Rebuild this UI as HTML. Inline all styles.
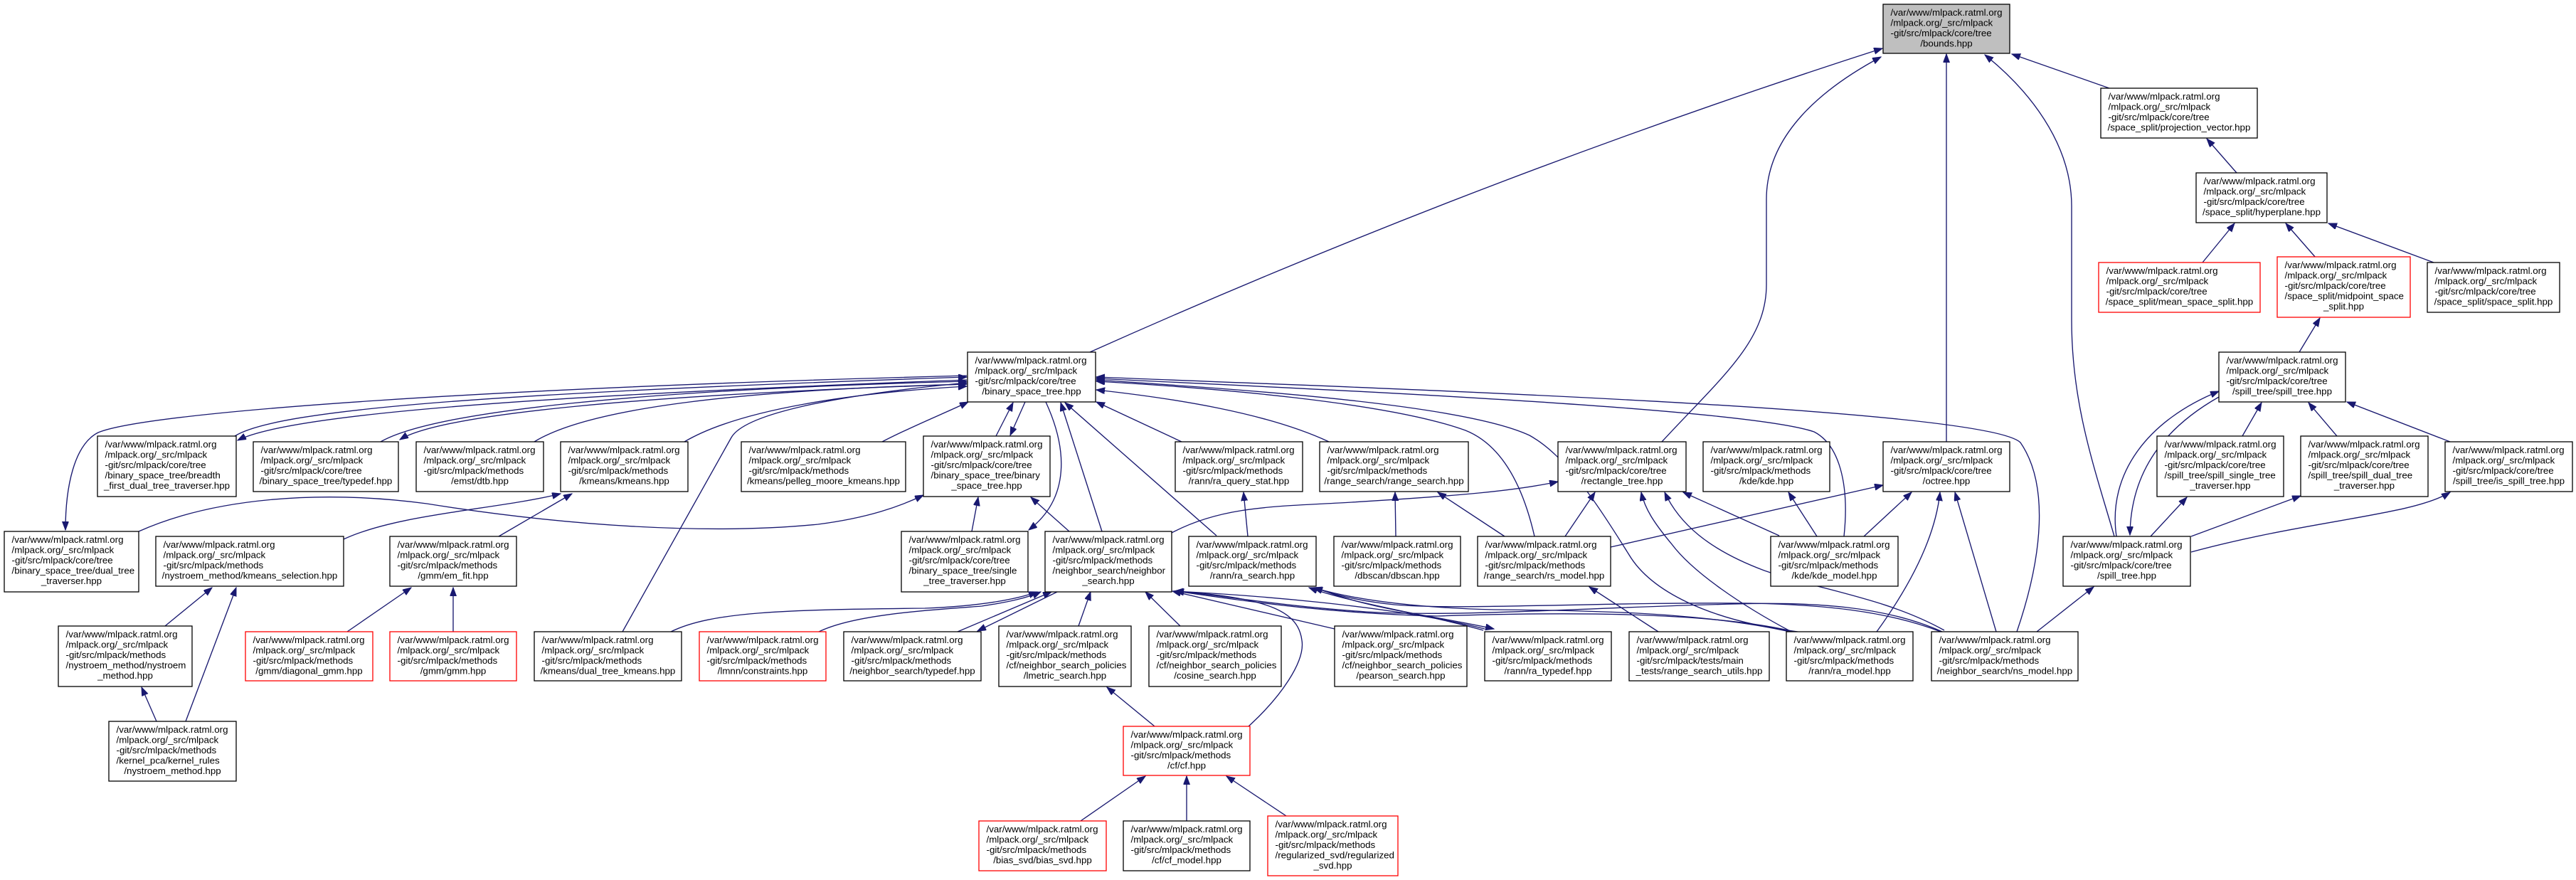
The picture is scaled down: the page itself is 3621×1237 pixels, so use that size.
<!DOCTYPE html>
<html>
<head>
<meta charset="utf-8">
<style>
  html, body { margin: 0; padding: 0; background: #ffffff; }
  svg { display: block; }
  .n rect { fill: #ffffff; stroke: #000000; stroke-width: 1.3; }
  .n.red rect { stroke: #ff0000; }
  .n.gray rect { fill: #bfbfbf; }
  .n text { font-family: "Liberation Sans", Arial, sans-serif; font-size: 13.33px; fill: #000000; }
  .e path { fill: none; stroke: #191970; stroke-width: 1.35; marker-end: url(#ah); }
</style>
</head>
<body>
<svg xmlns="http://www.w3.org/2000/svg" width="3621" height="1237" viewBox="0 0 3621 1237">
<defs>
  <marker id="ah" markerWidth="13" markerHeight="10" refX="12" refY="4.5" orient="auto" markerUnits="userSpaceOnUse">
    <path d="M0,0 L12,4.5 L0,9 z" fill="#191970" stroke="#191970" stroke-width="1"/>
  </marker>
</defs>
<rect x="0" y="0" width="3621" height="1237" fill="#ffffff"/>

<g class="e">
  <!-- top -->
  <path d="M1532,495 Q2080,250 2646,68"/>
  <path d="M2336,621 C2420,530 2483,480 2483,400 L2483,280 C2483,190 2560,125 2644,80"/>
  <path d="M2736,621 L2736,76"/>
  <path d="M2972,754 C2945,660 2912,570 2912,450 L2912,290 C2912,200 2850,125 2790,77"/>
  <path d="M2965,124 L2828,76"/>
  <path d="M3144,243 L3102,195"/>
  <path d="M3096,369 L3141,314"/>
  <path d="M3255,362 L3213,314"/>
  <path d="M3421,369 L3273,314"/>
  <path d="M3232,495 L3261,447"/>
  <!-- spill -->
  <path d="M2975,754 C2962,665 3020,590 3119,550"/>
  <path d="M3119,558 C3045,600 2995,660 2994,752"/>
  <path d="M3152,613 L3179,566"/>
  <path d="M3285,613 L3245,566"/>
  <path d="M3444,621 L3299,565"/>
  <path d="M3023,754 L3074,699"/>
  <path d="M3080,754 L3234,697"/>
  <path d="M3080,776 C3250,730 3390,725 3444,692"/>
  <path d="M2863,888 L2943,825"/>
  <!-- binary_space_tree -->
  <path d="M330,613 C390,575 700,552 1359,530"/>
  <path d="M1359,534 C700,558 400,585 334,619"/>
  <path d="M535,621 C610,578 900,548 1359,536"/>
  <path d="M1359,540 C900,555 620,582 562,618"/>
  <path d="M751,621 C830,572 1050,548 1359,540"/>
  <path d="M962,621 C1040,575 1200,552 1359,543"/>
  <path d="M1240,621 C1280,600 1330,580 1361,565"/>
  <path d="M1359,528 C700,545 210,578 138,608 C104,625 92,685 92,745"/>
  <path d="M1400,613 L1424,566"/>
  <path d="M1441,565 L1420,612"/>
  <path d="M1470,565 C1500,630 1505,700 1446,745"/>
  <path d="M1549,747 L1491,566"/>
  <path d="M1710,753 L1497,566"/>
  <path d="M1661,621 L1541,565"/>
  <path d="M1868,621 C1780,580 1650,560 1541,548"/>
  <path d="M2157,754 C2140,680 2110,625 2060,605 C1950,565 1700,545 1541,536"/>
  <path d="M2527,888 C2400,872 2320,830 2290,780 C2240,700 2200,640 2150,612 C2050,565 1700,545 1541,534"/>
  <path d="M2592,754 C2600,680 2585,625 2550,607 C2450,572 1800,545 1541,532"/>
  <path d="M2835,888 C2872,780 2880,680 2840,622 C2790,575 2000,548 1541,530"/>
  <path d="M875,888 L1028,615 C1045,585 1150,558 1359,538"/>
  <path d="M195,747 C300,700 450,688 600,708 C800,740 1000,752 1150,737 C1220,728 1265,712 1298,696"/>
  <path d="M1366,747 L1375,699"/>
  <path d="M1503,747 L1449,699"/>
  <!-- kmeans / gmm / nystroem -->
  <path d="M483,758 C560,722 700,716 788,694"/>
  <path d="M701,754 L804,694"/>
  <path d="M232,880 L298,826"/>
  <path d="M261,1014 L332,826"/>
  <path d="M220,1014 L199,966"/>
  <path d="M488,888 L578,826"/>
  <path d="M637,888 L637,826"/>
  <!-- neighbor_search -->
  <path d="M943,888 C1000,860 1100,857 1300,855 C1380,852 1430,842 1458,832"/>
  <path d="M1151,888 C1200,864 1300,858 1380,852 C1420,846 1445,840 1463,832"/>
  <path d="M1346,888 L1478,832"/>
  <path d="M1486,832 L1374,887"/>
  <path d="M1516,880 L1533,832"/>
  <path d="M1659,880 L1610,832"/>
  <path d="M1876,884 L1648,831"/>
  <path d="M1755,1021 C1800,980 1835,930 1830,900 C1825,862 1790,840 1651,831"/>
  <path d="M2087,884 C1950,850 1750,836 1651,831"/>
  <path d="M2518,887 C2400,860 2200,860 2020,866 C1850,862 1720,840 1652,831"/>
  <path d="M2730,888 C2650,852 2550,846 2440,849 C2250,853 2050,868 1920,860 C1800,852 1710,836 1652,831"/>
  <!-- rann -->
  <path d="M1754,754 L1748,692"/>
  <path d="M2085,886 C2000,862 1900,848 1840,826"/>
  <path d="M1850,826 C1920,856 2020,866 2100,884"/>
  <path d="M2516,888 C2400,862 2250,858 2100,857 C1980,854 1900,842 1846,826"/>
  <path d="M2728,888 C2650,858 2560,850 2460,848 C2250,846 2050,858 1960,850 C1910,845 1875,836 1847,826"/>
  <!-- range search -->
  <path d="M1962,754 L1961,692"/>
  <path d="M2115,754 L2021,692"/>
  <path d="M2331,888 L2234,825"/>
  <!-- rectangle tree -->
  <path d="M1647,749 C1720,710 1800,712 1900,706 C2050,697 2130,690 2190,677"/>
  <path d="M2200,754 L2242,692"/>
  <path d="M2518,888 C2450,852 2380,805 2350,765 C2325,735 2312,715 2307,692"/>
  <path d="M2733,886 C2650,840 2560,830 2480,802 C2400,772 2360,735 2340,692"/>
  <path d="M2501,753 L2366,692"/>
  <!-- kde / octree -->
  <path d="M2554,754 L2514,692"/>
  <path d="M2264,769 L2647,682"/>
  <path d="M2620,754 L2687,692"/>
  <path d="M2638,888 C2680,830 2720,760 2727,692"/>
  <path d="M2806,888 L2748,692"/>
  <!-- cf -->
  <path d="M1623,1021 L1556,966"/>
  <path d="M1519,1154 L1610,1091"/>
  <path d="M1668,1154 L1668,1091"/>
  <path d="M1808,1147 L1724,1091"/>
</g>

<!-- Nodes -->
<g class="n gray" transform="translate(2647,6)"><rect width="178" height="69"/>
<text x="10.5" y="15.8">/var/www/mlpack.ratml.org</text><text x="10.5" y="30.3">/mlpack.org/_src/mlpack</text><text x="10.5" y="44.8">-git/src/mlpack/core/tree</text><text x="89" y="59.3" text-anchor="middle">/bounds.hpp</text></g>

<g class="n" transform="translate(2953,124)"><rect width="220" height="70"/>
<text x="10.5" y="15.8">/var/www/mlpack.ratml.org</text><text x="10.5" y="30.3">/mlpack.org/_src/mlpack</text><text x="10.5" y="44.8">-git/src/mlpack/core/tree</text><text x="110" y="59.3" text-anchor="middle">/space_split/projection_vector.hpp</text></g>

<g class="n" transform="translate(3087,243)"><rect width="184" height="70"/>
<text x="10.5" y="15.8">/var/www/mlpack.ratml.org</text><text x="10.5" y="30.3">/mlpack.org/_src/mlpack</text><text x="10.5" y="44.8">-git/src/mlpack/core/tree</text><text x="92" y="59.3" text-anchor="middle">/space_split/hyperplane.hpp</text></g>

<g class="n red" transform="translate(2950,369)"><rect width="227" height="70"/>
<text x="10.5" y="15.8">/var/www/mlpack.ratml.org</text><text x="10.5" y="30.3">/mlpack.org/_src/mlpack</text><text x="10.5" y="44.8">-git/src/mlpack/core/tree</text><text x="113.5" y="59.3" text-anchor="middle">/space_split/mean_space_split.hpp</text></g>

<g class="n red" transform="translate(3201,361)"><rect width="187" height="85"/>
<text x="10.5" y="15.8">/var/www/mlpack.ratml.org</text><text x="10.5" y="30.3">/mlpack.org/_src/mlpack</text><text x="10.5" y="44.8">-git/src/mlpack/core/tree</text><text x="10.5" y="59.3">/space_split/midpoint_space</text><text x="93.5" y="73.8" text-anchor="middle">_split.hpp</text></g>

<g class="n" transform="translate(3412,369)"><rect width="186" height="70"/>
<text x="10.5" y="15.8">/var/www/mlpack.ratml.org</text><text x="10.5" y="30.3">/mlpack.org/_src/mlpack</text><text x="10.5" y="44.8">-git/src/mlpack/core/tree</text><text x="93" y="59.3" text-anchor="middle">/space_split/space_split.hpp</text></g>

<g class="n" transform="translate(1360,495)"><rect width="180" height="70"/>
<text x="10.5" y="15.8">/var/www/mlpack.ratml.org</text><text x="10.5" y="30.3">/mlpack.org/_src/mlpack</text><text x="10.5" y="44.8">-git/src/mlpack/core/tree</text><text x="90" y="59.3" text-anchor="middle">/binary_space_tree.hpp</text></g>

<g class="n" transform="translate(3119,495)"><rect width="178" height="70"/>
<text x="10.5" y="15.8">/var/www/mlpack.ratml.org</text><text x="10.5" y="30.3">/mlpack.org/_src/mlpack</text><text x="10.5" y="44.8">-git/src/mlpack/core/tree</text><text x="89" y="59.3" text-anchor="middle">/spill_tree/spill_tree.hpp</text></g>

<g class="n" transform="translate(137,613)"><rect width="195" height="85"/>
<text x="10.5" y="15.8">/var/www/mlpack.ratml.org</text><text x="10.5" y="30.3">/mlpack.org/_src/mlpack</text><text x="10.5" y="44.8">-git/src/mlpack/core/tree</text><text x="10.5" y="59.3">/binary_space_tree/breadth</text><text x="97.5" y="73.8" text-anchor="middle">_first_dual_tree_traverser.hpp</text></g>

<g class="n" transform="translate(356,621)"><rect width="204" height="70"/>
<text x="10.5" y="15.8">/var/www/mlpack.ratml.org</text><text x="10.5" y="30.3">/mlpack.org/_src/mlpack</text><text x="10.5" y="44.8">-git/src/mlpack/core/tree</text><text x="102" y="59.3" text-anchor="middle">/binary_space_tree/typedef.hpp</text></g>

<g class="n" transform="translate(585,621)"><rect width="179" height="70"/>
<text x="10.5" y="15.8">/var/www/mlpack.ratml.org</text><text x="10.5" y="30.3">/mlpack.org/_src/mlpack</text><text x="10.5" y="44.8">-git/src/mlpack/methods</text><text x="89.5" y="59.3" text-anchor="middle">/emst/dtb.hpp</text></g>

<g class="n" transform="translate(788,621)"><rect width="179" height="70"/>
<text x="10.5" y="15.8">/var/www/mlpack.ratml.org</text><text x="10.5" y="30.3">/mlpack.org/_src/mlpack</text><text x="10.5" y="44.8">-git/src/mlpack/methods</text><text x="89.5" y="59.3" text-anchor="middle">/kmeans/kmeans.hpp</text></g>

<g class="n" transform="translate(1042,621)"><rect width="231" height="70"/>
<text x="10.5" y="15.8">/var/www/mlpack.ratml.org</text><text x="10.5" y="30.3">/mlpack.org/_src/mlpack</text><text x="10.5" y="44.8">-git/src/mlpack/methods</text><text x="115.5" y="59.3" text-anchor="middle">/kmeans/pelleg_moore_kmeans.hpp</text></g>

<g class="n" transform="translate(1298,613)"><rect width="178" height="85"/>
<text x="10.5" y="15.8">/var/www/mlpack.ratml.org</text><text x="10.5" y="30.3">/mlpack.org/_src/mlpack</text><text x="10.5" y="44.8">-git/src/mlpack/core/tree</text><text x="10.5" y="59.3">/binary_space_tree/binary</text><text x="89" y="73.8" text-anchor="middle">_space_tree.hpp</text></g>

<g class="n" transform="translate(1652,621)"><rect width="179" height="70"/>
<text x="10.5" y="15.8">/var/www/mlpack.ratml.org</text><text x="10.5" y="30.3">/mlpack.org/_src/mlpack</text><text x="10.5" y="44.8">-git/src/mlpack/methods</text><text x="89.5" y="59.3" text-anchor="middle">/rann/ra_query_stat.hpp</text></g>

<g class="n" transform="translate(1855,621)"><rect width="209" height="70"/>
<text x="10.5" y="15.8">/var/www/mlpack.ratml.org</text><text x="10.5" y="30.3">/mlpack.org/_src/mlpack</text><text x="10.5" y="44.8">-git/src/mlpack/methods</text><text x="104.5" y="59.3" text-anchor="middle">/range_search/range_search.hpp</text></g>

<g class="n" transform="translate(2190,621)"><rect width="180" height="70"/>
<text x="10.5" y="15.8">/var/www/mlpack.ratml.org</text><text x="10.5" y="30.3">/mlpack.org/_src/mlpack</text><text x="10.5" y="44.8">-git/src/mlpack/core/tree</text><text x="90" y="59.3" text-anchor="middle">/rectangle_tree.hpp</text></g>

<g class="n" transform="translate(2394,621)"><rect width="178" height="70"/>
<text x="10.5" y="15.8">/var/www/mlpack.ratml.org</text><text x="10.5" y="30.3">/mlpack.org/_src/mlpack</text><text x="10.5" y="44.8">-git/src/mlpack/methods</text><text x="89" y="59.3" text-anchor="middle">/kde/kde.hpp</text></g>

<g class="n" transform="translate(2647,621)"><rect width="178" height="70"/>
<text x="10.5" y="15.8">/var/www/mlpack.ratml.org</text><text x="10.5" y="30.3">/mlpack.org/_src/mlpack</text><text x="10.5" y="44.8">-git/src/mlpack/core/tree</text><text x="89" y="59.3" text-anchor="middle">/octree.hpp</text></g>

<g class="n" transform="translate(3032,613)"><rect width="178" height="85"/>
<text x="10.5" y="15.8">/var/www/mlpack.ratml.org</text><text x="10.5" y="30.3">/mlpack.org/_src/mlpack</text><text x="10.5" y="44.8">-git/src/mlpack/core/tree</text><text x="10.5" y="59.3">/spill_tree/spill_single_tree</text><text x="89" y="73.8" text-anchor="middle">_traverser.hpp</text></g>

<g class="n" transform="translate(3234,613)"><rect width="179" height="85"/>
<text x="10.5" y="15.8">/var/www/mlpack.ratml.org</text><text x="10.5" y="30.3">/mlpack.org/_src/mlpack</text><text x="10.5" y="44.8">-git/src/mlpack/core/tree</text><text x="10.5" y="59.3">/spill_tree/spill_dual_tree</text><text x="89.5" y="73.8" text-anchor="middle">_traverser.hpp</text></g>

<g class="n" transform="translate(3437,621)"><rect width="179" height="70"/>
<text x="10.5" y="15.8">/var/www/mlpack.ratml.org</text><text x="10.5" y="30.3">/mlpack.org/_src/mlpack</text><text x="10.5" y="44.8">-git/src/mlpack/core/tree</text><text x="89.5" y="59.3" text-anchor="middle">/spill_tree/is_spill_tree.hpp</text></g>

<g class="n" transform="translate(6,747)"><rect width="189" height="85"/>
<text x="10.5" y="15.8">/var/www/mlpack.ratml.org</text><text x="10.5" y="30.3">/mlpack.org/_src/mlpack</text><text x="10.5" y="44.8">-git/src/mlpack/core/tree</text><text x="10.5" y="59.3">/binary_space_tree/dual_tree</text><text x="94.5" y="73.8" text-anchor="middle">_traverser.hpp</text></g>

<g class="n" transform="translate(219,754)"><rect width="264" height="70"/>
<text x="10.5" y="15.8">/var/www/mlpack.ratml.org</text><text x="10.5" y="30.3">/mlpack.org/_src/mlpack</text><text x="10.5" y="44.8">-git/src/mlpack/methods</text><text x="132" y="59.3" text-anchor="middle">/nystroem_method/kmeans_selection.hpp</text></g>

<g class="n" transform="translate(548,754)"><rect width="178" height="70"/>
<text x="10.5" y="15.8">/var/www/mlpack.ratml.org</text><text x="10.5" y="30.3">/mlpack.org/_src/mlpack</text><text x="10.5" y="44.8">-git/src/mlpack/methods</text><text x="89" y="59.3" text-anchor="middle">/gmm/em_fit.hpp</text></g>

<g class="n" transform="translate(1267,747)"><rect width="178" height="85"/>
<text x="10.5" y="15.8">/var/www/mlpack.ratml.org</text><text x="10.5" y="30.3">/mlpack.org/_src/mlpack</text><text x="10.5" y="44.8">-git/src/mlpack/core/tree</text><text x="10.5" y="59.3">/binary_space_tree/single</text><text x="89" y="73.8" text-anchor="middle">_tree_traverser.hpp</text></g>

<g class="n" transform="translate(1469,747)"><rect width="178" height="85"/>
<text x="10.5" y="15.8">/var/www/mlpack.ratml.org</text><text x="10.5" y="30.3">/mlpack.org/_src/mlpack</text><text x="10.5" y="44.8">-git/src/mlpack/methods</text><text x="10.5" y="59.3">/neighbor_search/neighbor</text><text x="89" y="73.8" text-anchor="middle">_search.hpp</text></g>

<g class="n" transform="translate(1671,754)"><rect width="179" height="70"/>
<text x="10.5" y="15.8">/var/www/mlpack.ratml.org</text><text x="10.5" y="30.3">/mlpack.org/_src/mlpack</text><text x="10.5" y="44.8">-git/src/mlpack/methods</text><text x="89.5" y="59.3" text-anchor="middle">/rann/ra_search.hpp</text></g>

<g class="n" transform="translate(1875,754)"><rect width="178" height="70"/>
<text x="10.5" y="15.8">/var/www/mlpack.ratml.org</text><text x="10.5" y="30.3">/mlpack.org/_src/mlpack</text><text x="10.5" y="44.8">-git/src/mlpack/methods</text><text x="89" y="59.3" text-anchor="middle">/dbscan/dbscan.hpp</text></g>

<g class="n" transform="translate(2077,754)"><rect width="187" height="70"/>
<text x="10.5" y="15.8">/var/www/mlpack.ratml.org</text><text x="10.5" y="30.3">/mlpack.org/_src/mlpack</text><text x="10.5" y="44.8">-git/src/mlpack/methods</text><text x="93.5" y="59.3" text-anchor="middle">/range_search/rs_model.hpp</text></g>

<g class="n" transform="translate(2489,754)"><rect width="179" height="70"/>
<text x="10.5" y="15.8">/var/www/mlpack.ratml.org</text><text x="10.5" y="30.3">/mlpack.org/_src/mlpack</text><text x="10.5" y="44.8">-git/src/mlpack/methods</text><text x="89.5" y="59.3" text-anchor="middle">/kde/kde_model.hpp</text></g>

<g class="n" transform="translate(2900,754)"><rect width="179" height="70"/>
<text x="10.5" y="15.8">/var/www/mlpack.ratml.org</text><text x="10.5" y="30.3">/mlpack.org/_src/mlpack</text><text x="10.5" y="44.8">-git/src/mlpack/core/tree</text><text x="89.5" y="59.3" text-anchor="middle">/spill_tree.hpp</text></g>

<g class="n" transform="translate(82,880)"><rect width="188" height="85"/>
<text x="10.5" y="15.8">/var/www/mlpack.ratml.org</text><text x="10.5" y="30.3">/mlpack.org/_src/mlpack</text><text x="10.5" y="44.8">-git/src/mlpack/methods</text><text x="10.5" y="59.3">/nystroem_method/nystroem</text><text x="94" y="73.8" text-anchor="middle">_method.hpp</text></g>

<g class="n red" transform="translate(345,888)"><rect width="179" height="69"/>
<text x="10.5" y="15.8">/var/www/mlpack.ratml.org</text><text x="10.5" y="30.3">/mlpack.org/_src/mlpack</text><text x="10.5" y="44.8">-git/src/mlpack/methods</text><text x="89.5" y="59.3" text-anchor="middle">/gmm/diagonal_gmm.hpp</text></g>

<g class="n red" transform="translate(548,888)"><rect width="178" height="69"/>
<text x="10.5" y="15.8">/var/www/mlpack.ratml.org</text><text x="10.5" y="30.3">/mlpack.org/_src/mlpack</text><text x="10.5" y="44.8">-git/src/mlpack/methods</text><text x="89" y="59.3" text-anchor="middle">/gmm/gmm.hpp</text></g>

<g class="n" transform="translate(751,888)"><rect width="207" height="69"/>
<text x="10.5" y="15.8">/var/www/mlpack.ratml.org</text><text x="10.5" y="30.3">/mlpack.org/_src/mlpack</text><text x="10.5" y="44.8">-git/src/mlpack/methods</text><text x="103.5" y="59.3" text-anchor="middle">/kmeans/dual_tree_kmeans.hpp</text></g>

<g class="n red" transform="translate(983,888)"><rect width="178" height="69"/>
<text x="10.5" y="15.8">/var/www/mlpack.ratml.org</text><text x="10.5" y="30.3">/mlpack.org/_src/mlpack</text><text x="10.5" y="44.8">-git/src/mlpack/methods</text><text x="89" y="59.3" text-anchor="middle">/lmnn/constraints.hpp</text></g>

<g class="n" transform="translate(1186,888)"><rect width="193" height="69"/>
<text x="10.5" y="15.8">/var/www/mlpack.ratml.org</text><text x="10.5" y="30.3">/mlpack.org/_src/mlpack</text><text x="10.5" y="44.8">-git/src/mlpack/methods</text><text x="96.5" y="59.3" text-anchor="middle">/neighbor_search/typedef.hpp</text></g>

<g class="n" transform="translate(1404,880)"><rect width="186" height="85"/>
<text x="10.5" y="15.8">/var/www/mlpack.ratml.org</text><text x="10.5" y="30.3">/mlpack.org/_src/mlpack</text><text x="10.5" y="44.8">-git/src/mlpack/methods</text><text x="10.5" y="59.3">/cf/neighbor_search_policies</text><text x="93" y="73.8" text-anchor="middle">/lmetric_search.hpp</text></g>

<g class="n" transform="translate(1615,880)"><rect width="186" height="85"/>
<text x="10.5" y="15.8">/var/www/mlpack.ratml.org</text><text x="10.5" y="30.3">/mlpack.org/_src/mlpack</text><text x="10.5" y="44.8">-git/src/mlpack/methods</text><text x="10.5" y="59.3">/cf/neighbor_search_policies</text><text x="93" y="73.8" text-anchor="middle">/cosine_search.hpp</text></g>

<g class="n" transform="translate(1876,880)"><rect width="186" height="85"/>
<text x="10.5" y="15.8">/var/www/mlpack.ratml.org</text><text x="10.5" y="30.3">/mlpack.org/_src/mlpack</text><text x="10.5" y="44.8">-git/src/mlpack/methods</text><text x="10.5" y="59.3">/cf/neighbor_search_policies</text><text x="93" y="73.8" text-anchor="middle">/pearson_search.hpp</text></g>

<g class="n" transform="translate(2087,888)"><rect width="178" height="69"/>
<text x="10.5" y="15.8">/var/www/mlpack.ratml.org</text><text x="10.5" y="30.3">/mlpack.org/_src/mlpack</text><text x="10.5" y="44.8">-git/src/mlpack/methods</text><text x="89" y="59.3" text-anchor="middle">/rann/ra_typedef.hpp</text></g>

<g class="n" transform="translate(2290,888)"><rect width="197" height="69"/>
<text x="10.5" y="15.8">/var/www/mlpack.ratml.org</text><text x="10.5" y="30.3">/mlpack.org/_src/mlpack</text><text x="10.5" y="44.8">-git/src/mlpack/tests/main</text><text x="98.5" y="59.3" text-anchor="middle">_tests/range_search_utils.hpp</text></g>

<g class="n" transform="translate(2511,888)"><rect width="178" height="69"/>
<text x="10.5" y="15.8">/var/www/mlpack.ratml.org</text><text x="10.5" y="30.3">/mlpack.org/_src/mlpack</text><text x="10.5" y="44.8">-git/src/mlpack/methods</text><text x="89" y="59.3" text-anchor="middle">/rann/ra_model.hpp</text></g>

<g class="n" transform="translate(2715,888)"><rect width="206" height="69"/>
<text x="10.5" y="15.8">/var/www/mlpack.ratml.org</text><text x="10.5" y="30.3">/mlpack.org/_src/mlpack</text><text x="10.5" y="44.8">-git/src/mlpack/methods</text><text x="103" y="59.3" text-anchor="middle">/neighbor_search/ns_model.hpp</text></g>

<g class="n" transform="translate(153,1014)"><rect width="179" height="84"/>
<text x="10.5" y="15.8">/var/www/mlpack.ratml.org</text><text x="10.5" y="30.3">/mlpack.org/_src/mlpack</text><text x="10.5" y="44.8">-git/src/mlpack/methods</text><text x="10.5" y="59.3">/kernel_pca/kernel_rules</text><text x="89.5" y="73.8" text-anchor="middle">/nystroem_method.hpp</text></g>

<g class="n red" transform="translate(1579,1021)"><rect width="178" height="69"/>
<text x="10.5" y="15.8">/var/www/mlpack.ratml.org</text><text x="10.5" y="30.3">/mlpack.org/_src/mlpack</text><text x="10.5" y="44.8">-git/src/mlpack/methods</text><text x="89" y="59.3" text-anchor="middle">/cf/cf.hpp</text></g>

<g class="n red" transform="translate(1376,1154)"><rect width="179" height="70"/>
<text x="10.5" y="15.8">/var/www/mlpack.ratml.org</text><text x="10.5" y="30.3">/mlpack.org/_src/mlpack</text><text x="10.5" y="44.8">-git/src/mlpack/methods</text><text x="89.5" y="59.3" text-anchor="middle">/bias_svd/bias_svd.hpp</text></g>

<g class="n" transform="translate(1579,1154)"><rect width="178" height="70"/>
<text x="10.5" y="15.8">/var/www/mlpack.ratml.org</text><text x="10.5" y="30.3">/mlpack.org/_src/mlpack</text><text x="10.5" y="44.8">-git/src/mlpack/methods</text><text x="89" y="59.3" text-anchor="middle">/cf/cf_model.hpp</text></g>

<g class="n red" transform="translate(1782,1147)"><rect width="183" height="84"/>
<text x="10.5" y="15.8">/var/www/mlpack.ratml.org</text><text x="10.5" y="30.3">/mlpack.org/_src/mlpack</text><text x="10.5" y="44.8">-git/src/mlpack/methods</text><text x="10.5" y="59.3">/regularized_svd/regularized</text><text x="91.5" y="73.8" text-anchor="middle">_svd.hpp</text></g>

</svg>
</body>
</html>
